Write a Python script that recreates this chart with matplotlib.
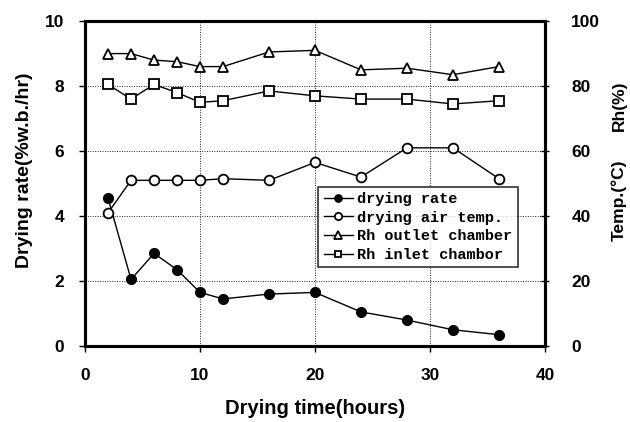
import matplotlib
matplotlib.use("Agg")
import matplotlib.pyplot as plt

# drying time (hours)
hours = [2, 4, 6, 8, 10, 12, 16, 20, 24, 28, 32, 36]
# left axis: drying rate (%w.b./hr)
drying_rate = [4.55, 2.05, 2.85, 2.35, 1.65, 1.45, 1.6, 1.65, 1.05, 0.8, 0.5, 0.35]
# right axis: temperature (C) and relative humidity (%)
air_temp = [41, 51, 51, 51, 51, 51.5, 51, 56.5, 52, 61, 61, 51.5]
rh_outlet = [90, 90, 88, 87.5, 86, 86, 90.5, 91, 85, 85.5, 83.5, 86]
rh_inlet = [80.5, 76, 80.5, 78, 75, 75.5, 78.5, 77, 76, 76, 74.5, 75.5]

plt.rcParams['font.family'] = ['Liberation Sans', 'DejaVu Sans']
plt.rcParams['font.weight'] = 'bold'

fig = plt.figure(figsize=(6.3, 4.22), dpi=100)
ax = fig.add_axes([0.135, 0.18, 0.73, 0.77])
ax2 = ax.twinx()

ax.set_xlim(0, 40)
ax.set_ylim(0, 10)
ax2.set_ylim(0, 100)
ax.set_xticks([0, 10, 20, 30, 40])
ax.set_yticks([0, 2, 4, 6, 8, 10])
ax2.set_yticks([0, 20, 40, 60, 80, 100])

ax.grid(True, color='#222222', linestyle=(0, (1, 1.5)), linewidth=0.7)

l1, = ax.plot(hours, drying_rate, '-o', color='black', lw=1, ms=7,
              mfc='black', label='drying rate')
l2, = ax2.plot(hours, air_temp, '-o', color='black', lw=1, ms=7,
               mfc='white', mew=1.3, label='drying air temp.')
l3, = ax2.plot(hours, rh_outlet, '-^', color='black', lw=1, ms=7,
               mfc='white', mew=1.3, label='Rh outlet chamber')
l4, = ax2.plot(hours, rh_inlet, '-s', color='black', lw=1, ms=6.5,
               mfc='white', mew=1.3, label='Rh inlet chambor')

for a in (ax, ax2):
    for s in a.spines.values():
        s.set_linewidth(2.2)
    a.tick_params(labelsize=12.5, width=1, length=4)
ax.tick_params(axis='x', pad=12)
ax.tick_params(axis='y', pad=11)
ax2.tick_params(axis='y', direction='inout', length=6, pad=16)

ax.set_xlabel('Drying time(hours)', fontsize=14.5, fontweight='bold', labelpad=11)
ax.set_ylabel('Drying rate(%w.b./hr)', fontsize=14, fontweight='bold')
ax.yaxis.set_label_coords(-0.113, 0.54)
fig.text(0.983, 0.525, 'Temp.(°C)', rotation=90, fontsize=12.5, fontweight='bold',
         ha='center', va='center')
fig.text(0.983, 0.75, 'Rh(%)', rotation=90, fontsize=12.5, fontweight='bold',
         ha='center', va='center')

leg = ax2.legend(handles=[l1, l2, l3, l4], loc='upper left',
                 bbox_to_anchor=(0.507, 0.49), borderaxespad=0, frameon=True,
                 fancybox=False, edgecolor='black', handlelength=1.9,
                 handletextpad=0.3, borderpad=0.35, labelspacing=0.3,
                 markerscale=0.75,
                 prop={'family': 'Liberation Mono', 'weight': 'bold', 'size': 11})
leg.get_frame().set_linewidth(1.2)

fig.savefig('out.png', dpi=100, facecolor='white')
